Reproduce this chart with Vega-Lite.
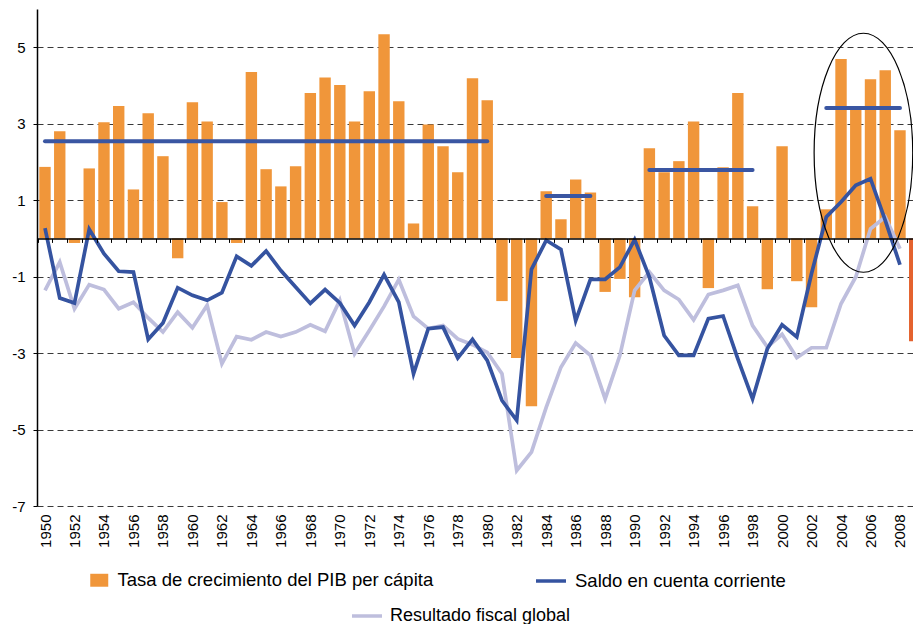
{
  "$schema": "https://vega.github.io/schema/vega-lite/v6.json",
  "width": 876,
  "height": 497,
  "autosize": {"type": "none"},
  "padding": {"left": 37, "top": 9, "right": 0, "bottom": 118},
  "background": "white",
  "config": {
    "view": {"stroke": null},
    "font": "Liberation Sans",
    "axis": {"labelFont": "Liberation Sans", "labelColor": "#000"},
    "legend": {"labelFont": "Liberation Sans", "labelColor": "#000"}
  },
  "datasets": {
    "pib": [
      {"year": 1950, "v": 1.87}, {"year": 1951, "v": 2.80}, {"year": 1952, "v": -0.12}, {"year": 1953, "v": 1.83},
      {"year": 1954, "v": 3.04}, {"year": 1955, "v": 3.46}, {"year": 1956, "v": 1.28}, {"year": 1957, "v": 3.27},
      {"year": 1958, "v": 2.15}, {"year": 1959, "v": -0.52}, {"year": 1960, "v": 3.56}, {"year": 1961, "v": 3.06},
      {"year": 1962, "v": 0.95}, {"year": 1963, "v": -0.12}, {"year": 1964, "v": 4.35}, {"year": 1965, "v": 1.81},
      {"year": 1966, "v": 1.36}, {"year": 1967, "v": 1.89}, {"year": 1968, "v": 3.80}, {"year": 1969, "v": 4.21},
      {"year": 1970, "v": 4.01}, {"year": 1971, "v": 3.06}, {"year": 1972, "v": 3.85}, {"year": 1973, "v": 5.34},
      {"year": 1974, "v": 3.59}, {"year": 1975, "v": 0.39}, {"year": 1976, "v": 2.98}, {"year": 1977, "v": 2.41},
      {"year": 1978, "v": 1.73}, {"year": 1979, "v": 4.19}, {"year": 1980, "v": 3.61}, {"year": 1981, "v": -1.64},
      {"year": 1982, "v": -3.13}, {"year": 1983, "v": -4.39}, {"year": 1984, "v": 1.23}, {"year": 1985, "v": 0.50},
      {"year": 1986, "v": 1.54}, {"year": 1987, "v": 1.20}, {"year": 1988, "v": -1.40}, {"year": 1989, "v": -1.06},
      {"year": 1990, "v": -1.54}, {"year": 1991, "v": 2.36}, {"year": 1992, "v": 1.73}, {"year": 1993, "v": 2.02},
      {"year": 1994, "v": 3.06}, {"year": 1995, "v": -1.30}, {"year": 1996, "v": 1.86}, {"year": 1997, "v": 3.80},
      {"year": 1998, "v": 0.84}, {"year": 1999, "v": -1.33}, {"year": 2000, "v": 2.41}, {"year": 2001, "v": -1.12},
      {"year": 2002, "v": -1.80}, {"year": 2003, "v": 0.76}, {"year": 2004, "v": 4.69}, {"year": 2005, "v": 3.40},
      {"year": 2006, "v": 4.16}, {"year": 2007, "v": 4.40}, {"year": 2008, "v": 2.83}, {"year": 2009, "v": -2.69}
    ],
    "cc": [
      {"year": 1950, "v": 0.27}, {"year": 1951, "v": -1.56}, {"year": 1952, "v": -1.69}, {"year": 1953, "v": 0.24},
      {"year": 1954, "v": -0.40}, {"year": 1955, "v": -0.86}, {"year": 1956, "v": -0.88}, {"year": 1957, "v": -2.64},
      {"year": 1958, "v": -2.21}, {"year": 1959, "v": -1.29}, {"year": 1960, "v": -1.49}, {"year": 1961, "v": -1.62},
      {"year": 1962, "v": -1.42}, {"year": 1963, "v": -0.47}, {"year": 1964, "v": -0.72}, {"year": 1965, "v": -0.33},
      {"year": 1966, "v": -0.84}, {"year": 1967, "v": -1.27}, {"year": 1968, "v": -1.70}, {"year": 1969, "v": -1.34},
      {"year": 1970, "v": -1.69}, {"year": 1971, "v": -2.28}, {"year": 1972, "v": -1.67}, {"year": 1973, "v": -0.95},
      {"year": 1974, "v": -1.67}, {"year": 1975, "v": -3.54}, {"year": 1976, "v": -2.36}, {"year": 1977, "v": -2.32},
      {"year": 1978, "v": -3.13}, {"year": 1979, "v": -2.64}, {"year": 1980, "v": -3.19}, {"year": 1981, "v": -4.24},
      {"year": 1982, "v": -4.76}, {"year": 1983, "v": -0.81}, {"year": 1984, "v": -0.05}, {"year": 1985, "v": -0.29},
      {"year": 1986, "v": -2.15}, {"year": 1987, "v": -1.07}, {"year": 1988, "v": -1.07}, {"year": 1989, "v": -0.75},
      {"year": 1990, "v": -0.03}, {"year": 1991, "v": -1.01}, {"year": 1992, "v": -2.54}, {"year": 1993, "v": -3.06},
      {"year": 1994, "v": -3.06}, {"year": 1995, "v": -2.10}, {"year": 1996, "v": -2.03}, {"year": 1997, "v": -3.15},
      {"year": 1998, "v": -4.20}, {"year": 1999, "v": -2.89}, {"year": 2000, "v": -2.26}, {"year": 2001, "v": -2.58},
      {"year": 2002, "v": -0.92}, {"year": 2003, "v": 0.56}, {"year": 2004, "v": 0.95}, {"year": 2005, "v": 1.39},
      {"year": 2006, "v": 1.56}, {"year": 2007, "v": 0.47}, {"year": 2008, "v": -0.69}
    ],
    "fiscal": [
      {"year": 1950, "v": -1.36}, {"year": 1951, "v": -0.62}, {"year": 1952, "v": -1.84}, {"year": 1953, "v": -1.21},
      {"year": 1954, "v": -1.34}, {"year": 1955, "v": -1.84}, {"year": 1956, "v": -1.67}, {"year": 1957, "v": -2.08},
      {"year": 1958, "v": -2.45}, {"year": 1959, "v": -1.93}, {"year": 1960, "v": -2.34}, {"year": 1961, "v": -1.75},
      {"year": 1962, "v": -3.28}, {"year": 1963, "v": -2.57}, {"year": 1964, "v": -2.65}, {"year": 1965, "v": -2.45},
      {"year": 1966, "v": -2.57}, {"year": 1967, "v": -2.45}, {"year": 1968, "v": -2.26}, {"year": 1969, "v": -2.43},
      {"year": 1970, "v": -1.62}, {"year": 1971, "v": -3.02}, {"year": 1972, "v": -2.41}, {"year": 1973, "v": -1.78},
      {"year": 1974, "v": -1.08}, {"year": 1975, "v": -2.04}, {"year": 1976, "v": -2.36}, {"year": 1977, "v": -2.28},
      {"year": 1978, "v": -2.63}, {"year": 1979, "v": -2.78}, {"year": 1980, "v": -2.98}, {"year": 1981, "v": -3.54},
      {"year": 1982, "v": -6.07}, {"year": 1983, "v": -5.59}, {"year": 1984, "v": -4.42}, {"year": 1985, "v": -3.37},
      {"year": 1986, "v": -2.74}, {"year": 1987, "v": -3.06}, {"year": 1988, "v": -4.20}, {"year": 1989, "v": -3.06},
      {"year": 1990, "v": -1.36}, {"year": 1991, "v": -0.88}, {"year": 1992, "v": -1.36}, {"year": 1993, "v": -1.60},
      {"year": 1994, "v": -2.13}, {"year": 1995, "v": -1.47}, {"year": 1996, "v": -1.36}, {"year": 1997, "v": -1.23},
      {"year": 1998, "v": -2.28}, {"year": 1999, "v": -2.84}, {"year": 2000, "v": -2.51}, {"year": 2001, "v": -3.12},
      {"year": 2002, "v": -2.86}, {"year": 2003, "v": -2.86}, {"year": 2004, "v": -1.71}, {"year": 2005, "v": -1.01},
      {"year": 2006, "v": 0.25}, {"year": 2007, "v": 0.56}, {"year": 2008, "v": -0.27}
    ],
    "avg": [
      {"start": 1950, "end": 1980, "v": 2.54},
      {"start": 1984, "end": 1987, "v": 1.11},
      {"start": 1991, "end": 1998, "v": 1.79},
      {"start": 2003, "end": 2008, "v": 3.41}
    ],
    "circle": [
      {"year": 2005.52, "v": 2.24}
    ]
  },
  "encoding": {
    "y": {
      "field": "v", "type": "quantitative",
      "scale": {"domain": [-7, 6], "nice": false},
      "axis": {
        "values": [-7, -5, -3, -1, 1, 3, 5], "title": null,
        "labelExpr": "'' + datum.value",
        "grid": true, "gridDash": [6, 4], "gridColor": "#3a3a3a", "gridWidth": 1,
        "domainColor": "#000", "domainWidth": 1.5, "tickColor": "#000", "tickSize": 4,
        "labelFontSize": 15, "labelPadding": 8
      }
    }
  },
  "layer": [
    {
      "data": {"name": "pib"},
      "mark": {"type": "bar", "size": 11.4, "clip": true},
      "encoding": {
        "x": {
          "field": "year", "type": "quantitative",
          "scale": {"domain": [1949.457, 2008.883], "nice": false, "zero": false, "padding": 0},
          "axis": {
            "orient": "bottom",
            "values": [1950, 1952, 1954, 1956, 1958, 1960, 1962, 1964, 1966, 1968, 1970, 1972, 1974, 1976, 1978, 1980, 1982, 1984, 1986, 1988, 1990, 1992, 1994, 1996, 1998, 2000, 2002, 2004, 2006, 2008],
            "format": "d", "labelAngle": -90, "labelFontSize": 15, "labelPadding": 8,
            "ticks": false, "tickSize": 0, "domain": false, "grid": false, "title": null,
            "labelOverlap": false, "labelFlush": false, "labelBound": false
          }
        },
        "y2": {"datum": 0},
        "color": {
          "datum": "Tasa de crecimiento del PIB per cápita", "type": "nominal",
          "condition": {"test": "datum.year === 2009", "value": "#E4622E"},
          "scale": {"range": ["#F0963A"]},
          "legend": {
            "orient": "none", "legendX": 53, "legendY": 562, "title": null,
            "symbolType": "M-1,-0.72L1,-0.72L1,0.72L-1,0.72Z", "symbolSize": 324, "symbolStrokeWidth": 0,
            "labelFontSize": 18.5, "labelOffset": 9, "labelLimit": 600, "padding": 0
          }
        }
      }
    },
    {
      "data": {"name": "avg"},
      "mark": {"type": "rule", "stroke": "#3A56A2", "strokeWidth": 4, "strokeCap": "round"},
      "encoding": {
        "x": {"field": "start", "type": "quantitative", "scale": {"domain": [1949.457, 2008.883], "nice": false, "zero": false, "padding": 0}, "axis": null},
        "x2": {"field": "end"}
      }
    },
    {
      "data": {"name": "fiscal"},
      "mark": {"type": "line", "strokeWidth": 3.7, "strokeJoin": "miter", "clip": true},
      "encoding": {
        "x": {"field": "year", "type": "quantitative", "scale": {"domain": [1949.457, 2008.883], "nice": false, "zero": false, "padding": 0}, "axis": null},
        "color": {
          "datum": "Resultado fiscal global", "type": "nominal",
          "scale": {"range": ["#BEBEDD"]},
          "legend": {
            "orient": "none", "legendX": 313, "legendY": 590, "title": null,
            "symbolType": "stroke", "symbolSize": 900, "symbolStrokeWidth": 3.5,
            "labelFontSize": 18, "labelOffset": 6, "labelLimit": 600, "padding": 0
          }
        }
      }
    },
    {
      "data": {"name": "cc"},
      "mark": {"type": "line", "strokeWidth": 3.7, "strokeJoin": "miter", "clip": true},
      "encoding": {
        "x": {
          "field": "year", "type": "quantitative",
          "scale": {"domain": [1949.457, 2008.883], "nice": false, "zero": false, "padding": 0},
          "axis": {
            "orient": "bottom", "offset": -267.6, "zindex": 1,
            "values": [1949.5, 1950.5, 1951.5, 1952.5, 1953.5, 1954.5, 1955.5, 1956.5, 1957.5, 1958.5, 1959.5, 1960.5, 1961.5, 1962.5, 1963.5, 1964.5, 1965.5, 1966.5, 1967.5, 1968.5, 1969.5, 1970.5, 1971.5, 1972.5, 1973.5, 1974.5, 1975.5, 1976.5, 1977.5, 1978.5, 1979.5, 1980.5, 1981.5, 1982.5, 1983.5, 1984.5, 1985.5, 1986.5, 1987.5, 1988.5, 1989.5, 1990.5, 1991.5, 1992.5, 1993.5, 1994.5, 1995.5, 1996.5, 1997.5, 1998.5, 1999.5, 2000.5, 2001.5, 2002.5, 2003.5, 2004.5, 2005.5, 2006.5, 2007.5, 2008.5],
            "labels": false, "ticks": true, "tickSize": 4, "tickColor": "#000", "tickWidth": 1,
            "domain": true, "domainColor": "#000", "domainWidth": 1.5, "grid": false, "title": null
          }
        },
        "color": {
          "datum": "Saldo en cuenta corriente", "type": "nominal",
          "scale": {"range": ["#3553A0"]},
          "legend": {
            "orient": "none", "legendX": 497, "legendY": 555, "title": null,
            "symbolType": "stroke", "symbolSize": 900, "symbolStrokeWidth": 3.5,
            "labelFontSize": 18.5, "labelOffset": 7, "labelLimit": 600, "padding": 0
          }
        }
      }
    },
    {
      "data": {"name": "circle"},
      "mark": {"type": "point", "shape": "M-0.4126,0A0.4126,1,0,1,0,0.4126,0A0.4126,1,0,1,0,-0.4126,0Z", "size": 57121, "filled": false, "stroke": "#000", "strokeWidth": 1.2, "opacity": 1},
      "encoding": {
        "x": {"field": "year", "type": "quantitative", "scale": {"domain": [1949.457, 2008.883], "nice": false, "zero": false, "padding": 0}, "axis": null}
      }
    }
  ],
  "resolve": {
    "scale": {"color": "independent"},
    "legend": {"color": "independent"},
    "axis": {"x": "independent"}
  }
}
